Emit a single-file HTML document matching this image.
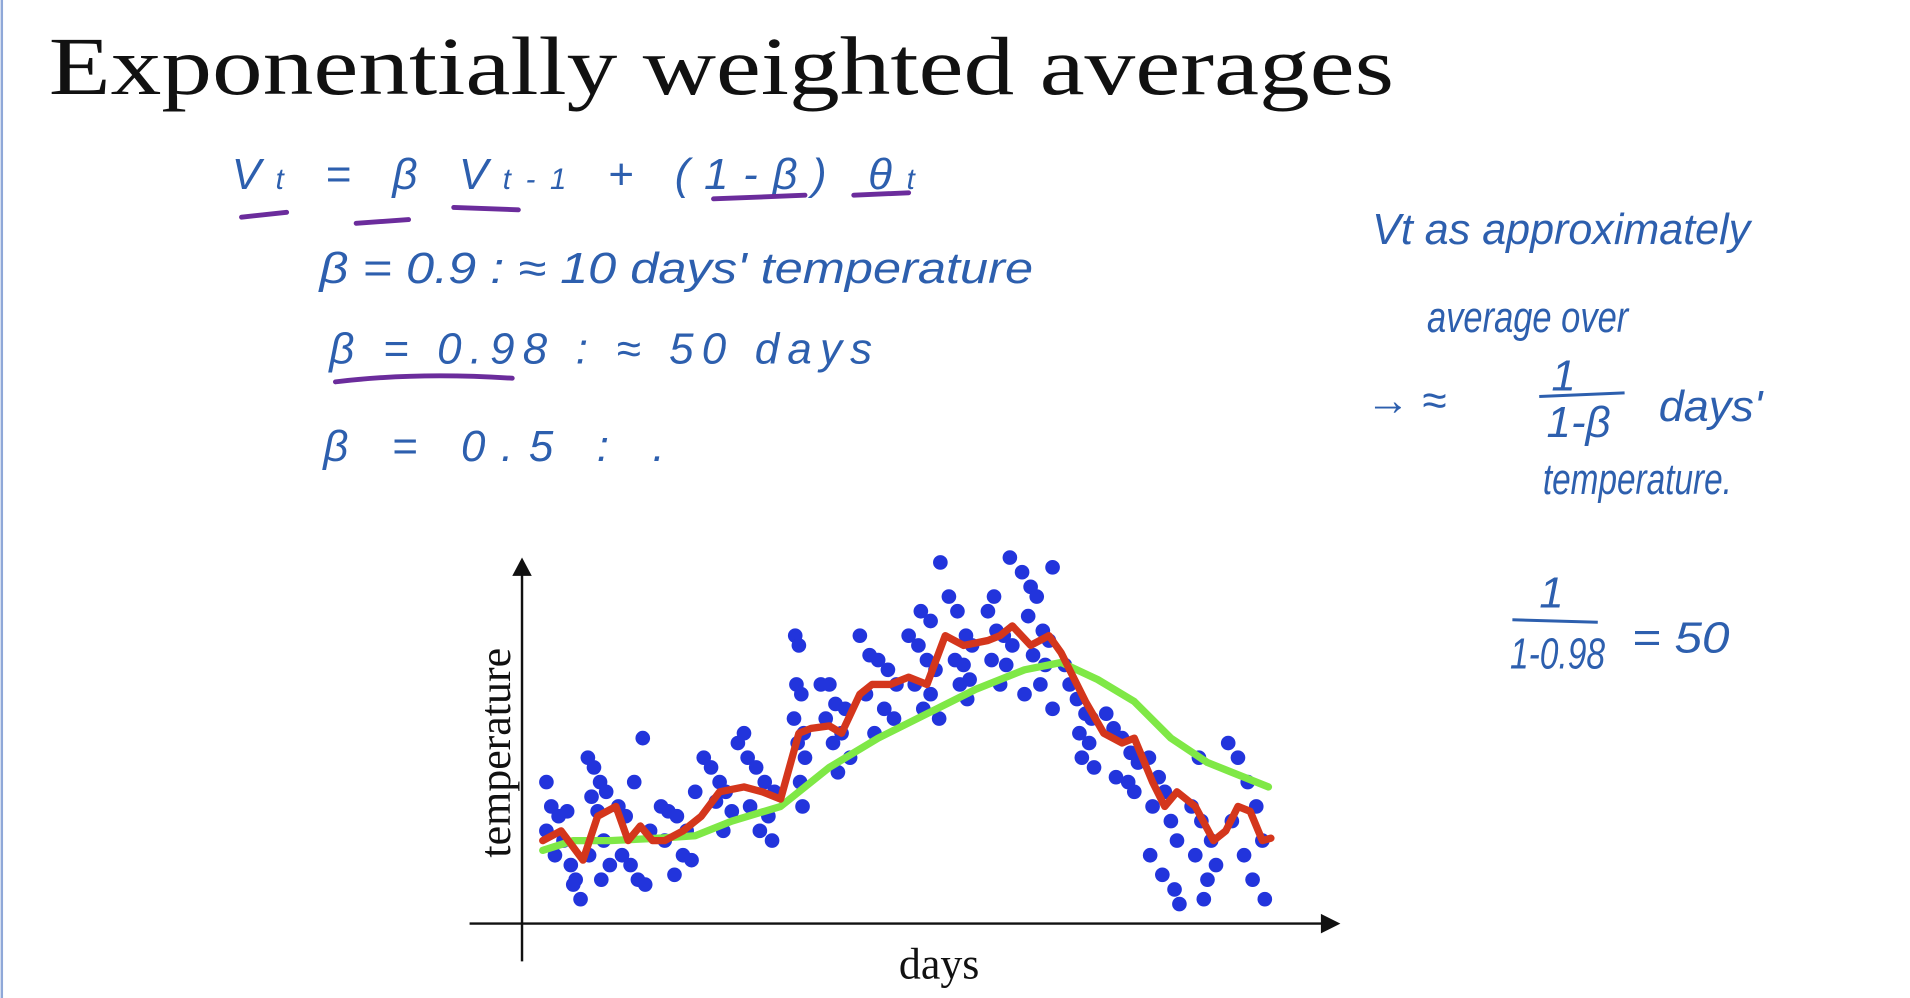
<!DOCTYPE html>
<html><head><meta charset="utf-8"><style>
html,body{margin:0;padding:0;background:#fff;overflow:hidden}
svg{display:block}
.hw{font-family:"Liberation Sans",sans-serif;font-style:italic;fill:#2d5fae;font-size:36px}
</style></head><body>
<svg id="root" width="1910" height="998" viewBox="0 0 1566 818" preserveAspectRatio="none" xmlns="http://www.w3.org/2000/svg">
<rect x="0" y="0" width="1566" height="818" fill="#fff"/>
<line x1="1.5" y1="0" x2="1.5" y2="818" stroke="#8fa8d8" stroke-width="2"/>
<text x="40" y="77" font-family="Liberation Serif, serif" font-size="68" fill="#111" textLength="1103" lengthAdjust="spacingAndGlyphs">Exponentially weighted averages</text>

<g>
<text class="hw" x="190" y="155" textLength="560" lengthAdjust="spacing">V<tspan font-size="24">t</tspan> = β V<tspan font-size="24">t-1</tspan> + (1-β) θ<tspan font-size="24">t</tspan></text>
<path d="M198 178 L235 174 M292 183 L335 180 M372 170 L425 172 M585 163 L660 160 M700 160 L745 158 M275 313 Q340 305 420 310" stroke="#6b2c9c" stroke-width="4" fill="none" stroke-linecap="round"/>
<text class="hw" x="262" y="232" textLength="585" lengthAdjust="spacingAndGlyphs">β = 0.9   :  ≈ 10  days' temperature</text>
<text class="hw" x="270" y="298" textLength="445" lengthAdjust="spacing">β = 0.98 : ≈ 50 days</text>
<text class="hw" x="265" y="378" textLength="280" lengthAdjust="spacing">β = 0.5 : .</text>
<text class="hw" x="1125" y="200" textLength="310" lengthAdjust="spacingAndGlyphs">Vt  as  approximately</text>
<text class="hw" x="1170" y="272" font-size="30" textLength="165" lengthAdjust="spacingAndGlyphs">average over</text>
<text class="hw" x="1120" y="340">→  ≈</text>
<text class="hw" x="1272" y="320" font-size="30">1</text>
<line x1="1262" y1="325" x2="1332" y2="322" stroke="#2d5fae" stroke-width="2.5"/>
<text class="hw" x="1268" y="358" font-size="28">1-β</text>
<text class="hw" x="1360" y="345" textLength="85" lengthAdjust="spacingAndGlyphs">days'</text>
<text class="hw" x="1265" y="405" font-size="32" textLength="155" lengthAdjust="spacingAndGlyphs">temperature.</text>
<text class="hw" x="1262" y="498" font-size="30">1</text>
<line x1="1240" y1="508" x2="1310" y2="510" stroke="#2d5fae" stroke-width="2.5"/>
<text class="hw" x="1238" y="548" font-size="26" textLength="78" lengthAdjust="spacingAndGlyphs">1-0.98</text>
<text class="hw" x="1338" y="535" textLength="80" lengthAdjust="spacingAndGlyphs">= 50</text>
</g>

<g id="chart">
<line x1="428" y1="470" x2="428" y2="788" stroke="#111" stroke-width="2"/>
<polygon points="420,472 428,457 436,472" fill="#111"/>
<line x1="385" y1="757" x2="1085" y2="757" stroke="#111" stroke-width="2"/>
<polygon points="1083,749 1099,757 1083,765" fill="#111"/>
<text transform="translate(418,617) rotate(-90)" text-anchor="middle" font-family="Liberation Serif, serif" font-size="36" fill="#111">temperature</text>
<text x="770" y="802" text-anchor="middle" font-family="Liberation Serif, serif" font-size="36" fill="#111">days</text>
<g id="dots"></g><g id="lines"></g>
</g>
</svg>
<script>
const dotDays=[3,7,13,3,17,10,20,23,27,31,25,37,42,47,40,52,45,50,38,55,48,62,68,65,72,78,84,82,75,88,97,103,110,118,100,115,122,108,125,132,138,145,150,142,155,148,160,168,175,182,190,170,185,178,188,165,207,210,208,212,206,214,209,215,211,213,228,235,240,248,232,245,238,252,242,260,268,275,283,290,265,280,288,272,300,308,315,322,305,318,312,325,310,318,326,333,340,347,352,338,345,350,342,348,365,372,378,385,368,380,375,383,370,393,400,405,398,410,415,402,412,408,395,418,418,428,432,438,445,450,440,448,442,452,462,468,475,482,488,470,480,485,497,505,510,500,515,520,498,508,518,522,532,540,548,535,552,545,542,538,562,570,578,585,565,590,575,582,592];
const dotTemps=[29,24,22,19,17,14,23,12,9,5,8,34,32,29,26,27,23,17,14,12,9,24,22,14,12,9,8,38,29,19,24,23,22,19,17,14,13,10,27,34,32,29,27,25,23,19,37,34,32,29,27,24,22,19,17,39,59,57,49,47,42,39,37,34,29,24,49,49,45,44,42,39,37,34,31,59,55,54,52,49,47,44,42,39,59,57,54,52,49,47,44,42,64,62,74,67,64,59,57,54,53,50,49,46,64,60,59,57,54,53,49,75,67,72,69,67,63,60,58,55,53,49,47,44,73,53,49,46,43,42,39,37,34,32,43,40,38,35,33,30,29,27,34,30,27,24,21,17,14,10,7,4,24,21,17,14,12,9,5,34,37,34,29,24,21,17,14,9,5];
const redDays=[0,15,33,45,60,70,80,90,100,115,130,145,165,180,195,210,220,235,245,260,270,285,300,315,330,345,365,375,385,400,415,425,445,460,475,485,500,510,520,535,550,560,570,580,590,597];
const redTemps=[17,19,13,22,24,17,20,17,17,19,22,27,28,27,25.5,39,40,40.5,39,47,49,49,50.5,49,59,57,58,59,61,57,59,55.5,45.5,39,37,38,29,24,27,24,17,19,24,23,17,17.5];
const greenDays=[0,25,55,95,125,155,195,235,275,315,355,395,425,455,485,515,545,565,595];
const greenTemps=[15,17,17,17.5,18,21,24,32,38,43,48,52,53.5,50,45.5,38,33,31,28];
const xS=d=>445+d, yS=t=>757-t*4;
const NS='http://www.w3.org/2000/svg';
const dg=document.getElementById('dots');
dotDays.forEach((d,i)=>{const c=document.createElementNS(NS,'circle');
c.setAttribute('cx',xS(d));c.setAttribute('cy',yS(dotTemps[i]));c.setAttribute('r',6);c.setAttribute('fill','#2234dc');


dg.appendChild(c);});
const lg=document.getElementById('lines');
function line(ds,ts,col,name){const p=document.createElementNS(NS,'polyline');
p.setAttribute('points',ds.map((d,i)=>xS(d)+','+yS(ts[i])).join(' '));
p.setAttribute('fill','none');p.setAttribute('stroke',col);p.setAttribute('stroke-width',6);p.setAttribute('stroke-linejoin','round');p.setAttribute('stroke-linecap','round');


lg.appendChild(p);}
line(greenDays,greenTemps,'#7fe846','green-ewa-line-beta-098');
line(redDays,redTemps,'#d4361c','red-ewa-line-beta-09');
</script>
</body></html>
